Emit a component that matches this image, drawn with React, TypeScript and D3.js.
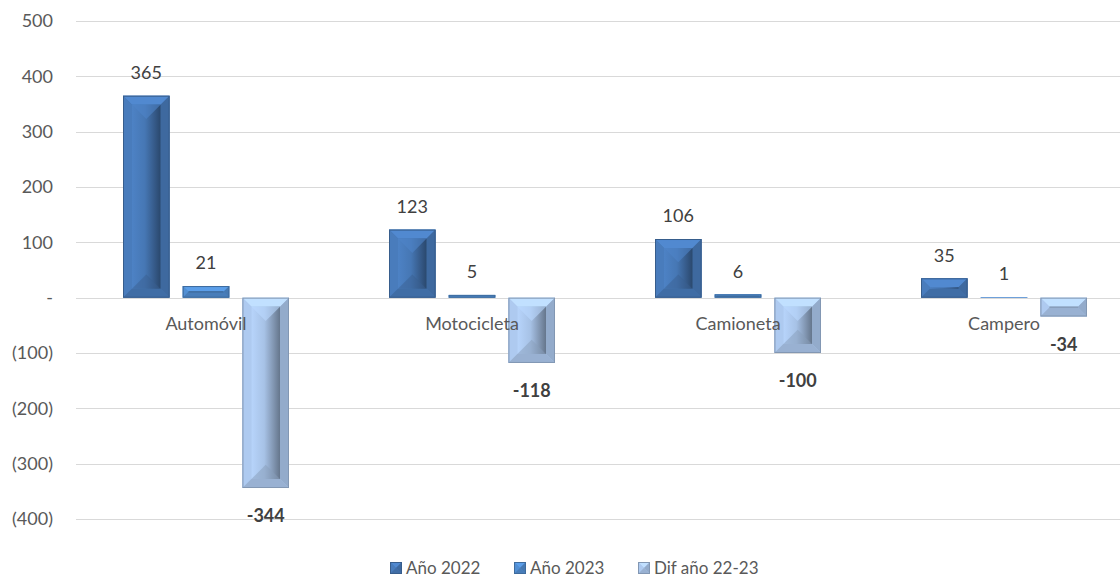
import React from "react";
import * as d3 from "d3";

const categories = ["Automóvil", "Motocicleta", "Camioneta", "Campero"];
const seriesNames = ["Año 2022", "Año 2023", "Dif año 22-23"];
const year2022 = [365, 123, 106, 35];
const year2023 = [21, 5, 6, 1];
const diff = [-344, -118, -100, -34];
const yTicks = [-400, -300, -200, -100, 0, 100, 200, 300, 400, 500];
const seriesColors = ["#4677B4", "#4F89CA", "#A7C2E6"];

const W = 1120;
const H = 579;
const FONT = "Lato, 'Open Sans', sans-serif";

const fmtTick = (v: number) => (v === 0 ? "-" : v < 0 ? `(${-v})` : `${v}`);

// bar with an Office-like bevel: four edge strips + shaded inner face
function Bevel({ x, y, w, h, color, id }: any) {
  const c = d3.color(color)!;
  const b = Math.max(0, Math.min(9, w / 2, h / 2));
  const ib = Math.min((w - 2 * b) / 2, (h - 2 * b) / 2);
  const pts = (a: number[][]) => a.map((p) => p.join(",")).join(" ");
  return (
    <g>
      <rect x={x} y={y} width={w} height={h} fill={c.formatHex()} />
      <polygon points={pts([[x, y], [x + w, y], [x + w - b, y + b], [x + b, y + b]])} fill={c.brighter(0.4).formatHex()} />
      <polygon points={pts([[x, y], [x + b, y + b], [x + b, y + h - b], [x, y + h]])} fill={c.brighter(0.12).formatHex()} />
      <polygon points={pts([[x + w, y], [x + w, y + h], [x + w - b, y + h - b], [x + w - b, y + b]])} fill={c.darker(0.35).formatHex()} />
      <polygon points={pts([[x, y + h], [x + w, y + h], [x + w - b, y + h - b], [x + b, y + h - b]])} fill={c.darker(0.25).formatHex()} />
      {w - 2 * b > 0 && h - 2 * b > 1 && (
        <>
          <rect x={x + b} y={y + b} width={w - 2 * b} height={h - 2 * b} fill={`url(#${id})`} />
          <polygon points={pts([[x + b, y + b], [x + w - b, y + b], [x + w / 2, y + b + ib]])} fill={c.brighter(0.3).formatHex()} opacity={0.6} />
          <polygon points={pts([[x + b, y + h - b], [x + w - b, y + h - b], [x + w / 2, y + h - b - ib]])} fill={c.darker(0.6).formatHex()} opacity={0.5} />
        </>
      )}
      {h - 2 * b <= 1 && h > 3 && (
        <line x1={x + b} x2={x + w - b} y1={y + h / 2} y2={y + h / 2} stroke={c.darker(1).formatHex()} strokeWidth={1} />
      )}
      <rect x={x + 0.5} y={y + 0.5} width={Math.max(0, w - 1)} height={Math.max(0, h - 1)} fill="none" stroke={c.darker(0.7).formatHex()} strokeWidth={1} />
    </g>
  );
}

export default function App() {
  const values = [year2022, year2023, diff];
  const y = d3.scaleLinear().domain([-400, 500]).range([519, 21]);
  const x0 = d3.scaleBand<string>().domain(categories).range([73, 1137]);
  const x1 = d3.scaleBand<string>().domain(seriesNames).range([50, 216]).paddingInner(0.22);
  const gridX1 = 76;
  const gridX2 = x0.range()[1];
  const legendX = [390, 514, 638];

  return (
    <div style={{ position: "absolute", left: 0, top: 0 }}>
      <svg width={W} height={H} style={{ display: "block", fontFamily: FONT }}>
        <defs>
          {seriesColors.map((col, i) => {
            const c = d3.color(col)!;
            return (
              <linearGradient key={i} id={`g${i}`} x1="0" x2="1" y1="0" y2="0">
                <stop offset="0" stopColor={c.brighter(0.25).formatHex()} />
                <stop offset="0.45" stopColor={c.formatHex()} />
                <stop offset="0.8" stopColor={c.darker(0.8).formatHex()} />
                <stop offset="1" stopColor={c.darker(1.4).formatHex()} />
              </linearGradient>
            );
          })}
        </defs>
        <rect width={W} height={H} fill="#fff" />
        {yTicks.map((t) => (
          <g key={t}>
            <line x1={gridX1} x2={gridX2} y1={Math.round(y(t)) + 0.5} y2={Math.round(y(t)) + 0.5} stroke="#D9D9D9" />
            <text x={53} y={y(t)} dy="0.35em" textAnchor="end" fontSize={18} fill="#595959">
              {fmtTick(t)}
            </text>
          </g>
        ))}
        {categories.map((cat, ci) =>
          seriesNames.map((s, si) => {
            const v = values[si][ci];
            const bx = x0(cat)! + x1(s)!;
            const bw = x1.bandwidth();
            const top = Math.min(y(v), y(0));
            const bh = Math.abs(y(v) - y(0));
            return <Bevel key={cat + s} x={bx} y={top} w={bw} h={bh} color={seriesColors[si]} id={`g${si}`} />;
          })
        )}
        {categories.map((cat) => (
          <text key={cat} x={x0(cat)! + x0.bandwidth() / 2} y={y(0) + 26} dy="0.35em" textAnchor="middle" fontSize={18} fill="#595959">
            {cat}
          </text>
        ))}
        {categories.map((cat, ci) =>
          seriesNames.map((s, si) => {
            const v = values[si][ci];
            const cx = x0(cat)! + x1(s)! + x1.bandwidth() / 2;
            const ly = v >= 0 ? y(v) - 23 : y(v) + 28;
            return (
              <text key={"l" + cat + s} x={cx} y={ly} dy="0.35em" textAnchor="middle" fontSize={18} fill="#404040" fontWeight={v < 0 ? "bold" : "normal"}>
                {v}
              </text>
            );
          })
        )}
        {seriesNames.map((s, si) => (
          <g key={s} transform={`translate(${legendX[si]},562)`}>
            <Bevel x={0} y={0} w={12} h={12} color={seriesColors[si]} id={`g${si}`} />
            <text x={16} y={12} fontSize={17} fill="#595959">
              {s}
            </text>
          </g>
        ))}
      </svg>
    </div>
  );
}
